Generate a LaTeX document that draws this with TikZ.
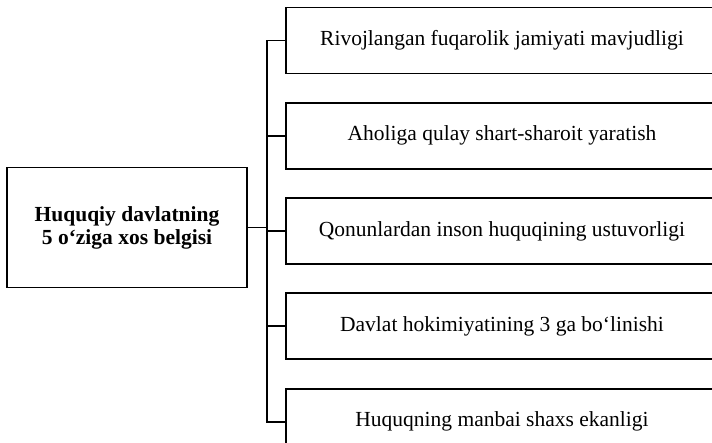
\documentclass[tikz,border=0pt]{standalone}
\usepackage{fontspec}
\setmainfont{Liberation Serif}
\usetikzlibrary{positioning}

\begin{document}
\begin{tikzpicture}[
    x=1pt, y=-1pt,
    node distance=27.5pt,
    font=\fontsize{21.5}{23}\selectfont,
    mainbox/.style={rectangle, draw, line width=1.8pt, align=center, font=\fontsize{21.5}{23}\selectfont\bfseries, minimum width=240pt, minimum height=120pt},
    signbox/.style={rectangle, draw, line width=1.8pt, align=center, minimum width=432pt, minimum height=66pt},
    line/.style={line width=1.8pt}
]
\useasboundingbox (0,0) rectangle (712,443);
\clip (0,0) rectangle (712,443);

% Nodes
\node (main) [mainbox] at (127,227.5) {Huquqiy davlatning\\5 o‘ziga xos belgisi};
\node (s1) [signbox] at (502,40.5) {Rivojlangan fuqarolik jamiyati mavjudligi};
\node (s2) [signbox, below=of s1] {Aholiga qulay shart-sharoit yaratish};
\node (s3) [signbox, below=of s2] {Qonunlardan inson huquqining ustuvorligi};
\node (s4) [signbox, below=of s3] {Davlat hokimiyatining 3 ga bo‘linishi};
\node (s5) [signbox, below=of s4] {Huquqning manbai shaxs ekanligi};
\coordinate (bus) at (267,0);

% Lines
\draw [line] (main.east) -- (main.east -| bus);
\draw [line] (s1.west) -- (s1.west -| bus) -- (s5.west -| bus) -- (s5.west);
\foreach \i in {2,3,4}
    \draw [line] (s\i.west) -- (s\i.west -| bus);

\end{tikzpicture}
\end{document}
